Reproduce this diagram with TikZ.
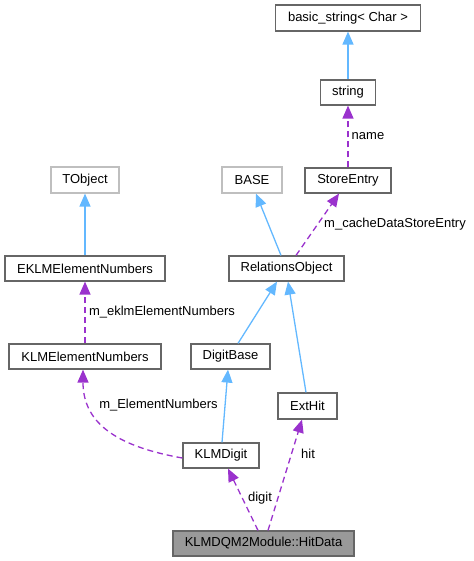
\documentclass[tikz,border=0pt]{standalone}
\usepackage{fontspec}
\setmainfont{Liberation Sans}
\usetikzlibrary{arrows.meta,calc}
\definecolor{inh}{HTML}{63B8FF}
\definecolor{use}{HTML}{9A32CD}
\definecolor{bord}{HTML}{666666}
\definecolor{lbord}{HTML}{BFBFBF}
\definecolor{hfill}{HTML}{999999}
\tikzset{
  cls/.style={draw=bord, line width=1.2pt, fill=white, inner sep=0pt, minimum height=25pt, font=\fontsize{13}{15}\selectfont},
  ext/.style={cls, draw=lbord},
  cur/.style={cls, fill=hfill},
  inhedge/.style={draw=inh, line width=1.3pt, -{Triangle[length=13pt,width=11pt]}},
  useedge/.style={draw=use, line width=1.3pt, dash pattern=on 6pt off 4pt, -{Triangle[length=13pt,width=11pt]}},
  lbl/.style={font=\fontsize{13}{15}\selectfont, inner sep=0pt, text=black}
}
\begin{document}
\begin{tikzpicture}[x=1pt,y=-1pt]
\useasboundingbox (0,0) rectangle (473,561);
\node[cls, minimum width=145pt, minimum height=26pt] (bs) at (348,18) {basic\_string< Char >};
\node[cls, minimum width=55pt] (str) at (348,92.5) {string};
\node[cls, minimum width=86pt] (se) at (348,180.5) {StoreEntry};
\node[ext, minimum width=68pt, minimum height=26pt] (tobj) at (85,180) {TObject};
\node[cls, minimum width=160pt] (eklm) at (85,268.5) {EKLMElementNumbers};
\node[cls, minimum width=152pt] (klmen) at (85,356.5) {KLMElementNumbers};
\node[ext, minimum width=60pt, minimum height=26pt] (base) at (252,180) {BASE};
\node[cls, minimum width=115pt] (ro) at (286.5,268.5) {RelationsObject};
\node[cls, minimum width=79pt] (db) at (230.5,356.5) {DigitBase};
\node[cls, minimum width=59pt, minimum height=26pt] (exthit) at (307.5,406) {ExtHit};
\node[cls, minimum width=76pt] (kd) at (221,455.5) {KLMDigit};
\node[cur, minimum width=181pt] (hd) at (263.5,543.5) {KLMDQM2Module::HitData};

\draw[inhedge] (str.north) -- (bs.south);
\draw[useedge] (se.north) -- (str.south);
\node[lbl] (lname) at (368,136) {name};
\draw[inhedge] (eklm.north) -- (tobj.south);
\draw[useedge] (klmen.north) -- (eklm.south);
\node[lbl] (leklm) at (162,312) {m\_eklmElementNumbers};
\draw[inhedge] ([xshift=-5.5pt]ro.north) -- ([xshift=4pt]base.south);
\draw[useedge] ([xshift=9.5pt]ro.north) -- ([xshift=-9pt]se.south);
\node[lbl] (lcache) at (395,224) {m\_cacheDataStoreEntry};
\draw[inhedge] ([xshift=7.5pt]db.north) -- ([xshift=-9.5pt]ro.south);
\draw[inhedge] ([xshift=-1.5pt]exthit.north) -- ([xshift=1.5pt]ro.south);
\draw[inhedge] ([xshift=1pt]kd.north) -- ([xshift=-2.5pt]db.south);
\draw[useedge] ([yshift=-2.5pt]kd.west) .. controls (120,447) and (83,425) .. ([xshift=-2pt]klmen.south);
\node[lbl] (lelem) at (158.5,405) {m\_ElementNumbers};
\draw[useedge] ([xshift=-5.5pt]hd.north) -- ([xshift=7pt]kd.south);
\node[lbl] (ldigit) at (260,498) {digit};
\draw[useedge] ([xshift=4.5pt]hd.north) -- ([xshift=-5.5pt]exthit.south);
\node[lbl] (lhit) at (308,454) {hit};
\end{tikzpicture}
\end{document}
